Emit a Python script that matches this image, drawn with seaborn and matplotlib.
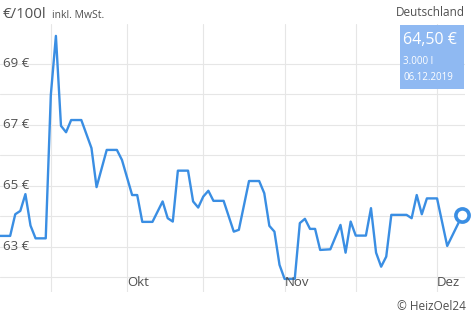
import matplotlib
matplotlib.use("Agg")
import matplotlib.pyplot as plt
import matplotlib.transforms as mtransforms
import seaborn as sns
import pandas as pd

# ---- data ----
dates = ["2019-09-06", "2019-09-08", "2019-09-09", "2019-09-10", "2019-09-11", "2019-09-12",
         "2019-09-13", "2019-09-15", "2019-09-16", "2019-09-17", "2019-09-18", "2019-09-19",
         "2019-09-20", "2019-09-22", "2019-09-23", "2019-09-24", "2019-09-25", "2019-09-27",
         "2019-09-29", "2019-09-30", "2019-10-02", "2019-10-03", "2019-10-04", "2019-10-06",
         "2019-10-08", "2019-10-09", "2019-10-10", "2019-10-11", "2019-10-13", "2019-10-14",
         "2019-10-15", "2019-10-16", "2019-10-17", "2019-10-18", "2019-10-20", "2019-10-22",
         "2019-10-23", "2019-10-25", "2019-10-27", "2019-10-28", "2019-10-29", "2019-10-30",
         "2019-10-31", "2019-11-01", "2019-11-03", "2019-11-04", "2019-11-05", "2019-11-06",
         "2019-11-07", "2019-11-08", "2019-11-10", "2019-11-12", "2019-11-13", "2019-11-14",
         "2019-11-15", "2019-11-17", "2019-11-18", "2019-11-19", "2019-11-20", "2019-11-21",
         "2019-11-22", "2019-11-25", "2019-11-26", "2019-11-27", "2019-11-28", "2019-11-29",
         "2019-12-01", "2019-12-03", "2019-12-06"]
prices = [63.36, 63.36, 64.07, 64.18, 64.73, 63.70,
          63.28, 63.28, 67.98, 69.92, 66.97, 66.76,
          67.16, 67.16, 66.70, 66.24, 64.96, 66.18,
          66.18, 65.85, 64.70, 64.70, 63.82, 63.82,
          64.49, 63.94, 63.83, 65.50, 65.50, 64.49,
          64.29, 64.65, 64.84, 64.51, 64.51, 63.50,
          63.56, 65.16, 65.16, 64.76, 63.69, 63.50,
          62.41, 61.95, 61.95, 63.78, 63.92, 63.59,
          63.59, 62.90, 62.92, 63.72, 62.81, 63.83,
          63.37, 63.37, 64.27, 62.81, 62.35, 62.68,
          64.05, 64.05, 63.94, 64.70, 64.07, 64.59,
          64.59, 63.03, 64.05]

month_ticks = ["2019-10-01", "2019-11-01", "2019-12-01"]
month_labels = ["Okt", "Nov", "Dez"]
mid_ticks = ["2019-09-16", "2019-10-16", "2019-11-15"]
y_grid = [62, 63, 64, 65, 66, 67, 68, 69]
y_label_vals = [63, 65, 67, 69]
y_labels = ["63 €", "65 €", "67 €", "69 €"]

tooltip_price = "64,50 €"
tooltip_qty = "3.000 l"
tooltip_date = "06.12.2019"

df = pd.DataFrame({"date": pd.to_datetime(dates), "price": prices})

# ---- style ----
sns.set_theme(style="white")
plt.rcParams["font.family"] = ["Open Sans", "DejaVu Sans"]

W, H = 472, 320
fig = plt.figure(figsize=(W / 100, H / 100), dpi=100)
ax = fig.add_axes([0, (H - 292) / H, 465 / W, (292 - 24) / H])

LINE = "#3a8ee3"
GRID = "#e6e6e6"
TXT = "#505050"

sns.lineplot(data=df, x="date", y="price", ax=ax, color=LINE, linewidth=1.7, zorder=3)

last = df.iloc[-1]
ax.plot([last["date"]], [last["price"]], marker="o", markersize=9.5,
        markerfacecolor="white", markeredgecolor=LINE, markeredgewidth=2.6, zorder=5,
        clip_on=False)

start = pd.Timestamp("2019-09-06")
ax.set_xlim(start, start + pd.Timedelta(days=91.5))
ax.set_ylim(61.52, 70.31)

for v in y_grid:
    ax.axhline(v, color=GRID, linewidth=0.8, zorder=1)
for d in month_ticks + mid_ticks:
    ax.axvline(pd.Timestamp(d), color=GRID, linewidth=0.8, zorder=1)

ax.set_xticks([])
ax.set_yticks([])
ax.set_xlabel("")
ax.set_ylabel("")
for s in ax.spines.values():
    s.set_visible(False)

ytrans = mtransforms.blended_transform_factory(ax.transAxes, ax.transData)
for v, lab in zip(y_label_vals, y_labels):
    ax.text(3 / 465, v, lab, transform=ytrans, ha="left", va="center",
            fontsize=9.5, color=TXT, zorder=4)

xtrans = mtransforms.blended_transform_factory(ax.transData, ax.transAxes)
for d, lab in zip(month_ticks, month_labels):
    ax.text(pd.Timestamp(d), (292 - 282) / 268, lab, transform=xtrans,
            ha="left", va="center", fontsize=9.5, color=TXT, zorder=4)

# header
fig.text(3 / W, 1 - 14 / H, "€/100l", ha="left", va="center", fontsize=10.8, color=TXT)
fig.text(52 / W, 1 - 15 / H, "inkl. MwSt.", ha="left", va="center", fontsize=7.5, color=TXT)
fig.text(465 / W, 1 - 13 / H, "Deutschland", ha="right", va="center", fontsize=8.5, color=TXT)
fig.text(466 / W, 1 - 306 / H, "© HeizOel24", ha="right", va="center", fontsize=8.5, color=TXT)

# tooltip box
box = plt.Rectangle((400 / W, 1 - 89 / H), 64 / W, 64 / H, transform=fig.transFigure,
                    facecolor="#8fb9f2", edgecolor="none", zorder=6)
fig.patches.append(box)
fig.text(403 / W, 1 - 40 / H, tooltip_price, ha="left", va="center", fontsize=11.5,
         color="white", zorder=7)
fig.text(403 / W, 1 - 61 / H, tooltip_qty, ha="left", va="center", fontsize=7,
         color="white", zorder=7)
fig.text(403 / W, 1 - 78 / H, tooltip_date, ha="left", va="center", fontsize=7,
         color="white", zorder=7)

fig.savefig("out.png", dpi=100, facecolor="white")
